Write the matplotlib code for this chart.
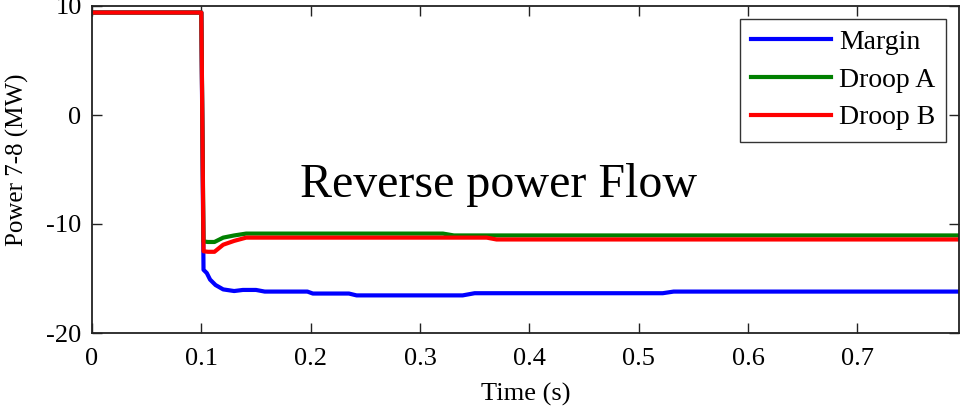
import matplotlib
matplotlib.use("Agg")
import matplotlib.pyplot as plt

# Data
t_margin = [0, 0.1, 0.102, 0.105, 0.108, 0.113, 0.12, 0.13, 0.138, 0.15, 0.158, 0.197, 0.202,
            0.235, 0.242, 0.339, 0.35, 0.522, 0.532, 0.793]
v_margin = [9.4, 9.4, -14.2, -14.5, -15.1, -15.6, -16.0, -16.15, -16.05, -16.05, -16.2, -16.2, -16.38,
            -16.38, -16.55, -16.55, -16.35, -16.35, -16.2, -16.2]

t_droopA = [0, 0.1, 0.102, 0.106, 0.112, 0.12, 0.13, 0.141, 0.321, 0.331, 0.793]
v_droopA = [9.4, 9.4, -11.6, -11.65, -11.65, -11.25, -11.05, -10.88, -10.88, -11.05, -11.05]

t_droopB = [0, 0.1, 0.102, 0.106, 0.112, 0.12, 0.13, 0.141, 0.361, 0.37, 0.793]
v_droopB = [9.4, 9.4, -12.5, -12.55, -12.55, -11.9, -11.55, -11.25, -11.25, -11.42, -11.42]

labels = ["Margin", "Droop A", "Droop B"]
colors = ["#0000ff", "#008000", "#ff0000"]
xticks = [0, 0.1, 0.2, 0.3, 0.4, 0.5, 0.6, 0.7]
xticklabels = ["0", "0.1", "0.2", "0.3", "0.4", "0.5", "0.6", "0.7"]
yticks = [-20, -10, 0, 10]
yticklabels = ["-20", "-10", "0", "10"]

plt.rcParams['font.family'] = ['Liberation Serif', 'DejaVu Serif']

fig = plt.figure(figsize=(9.73, 4.09), dpi=100)
ax_l, ax_r, ax_b, ax_t = 92, 959, 333, 6
ax = fig.add_axes([ax_l/973, 1 - ax_b/409, (ax_r-ax_l)/973, (ax_b-ax_t)/409])

for t, v, lab, c in zip([t_margin, t_droopA, t_droopB], [v_margin, v_droopA, v_droopB], labels, colors):
    ax.plot(t, v, color=c, lw=3, label=lab, solid_joinstyle='round')

ax.set_xlim(0, 0.793)
ax.set_ylim(-20, 10)
ax.set_xticks(xticks)
ax.set_xticklabels(xticklabels)
ax.set_yticks(yticks)
ax.set_yticklabels(yticklabels)
ax.tick_params(direction='in', length=7, width=1, top=True, right=True, labelsize=19,
               colors='#222222', labelcolor='black')
ax.tick_params(axis='x', pad=11)
ax.tick_params(axis='y', pad=7.5)
for s in ax.spines.values():
    s.set_linewidth(1.3)
    s.set_color('#222222')

ax.set_xlabel("Time (s)", fontsize=19, labelpad=9)
ax.set_ylabel("Power 7-8 (MW)", fontsize=18)
# y label: baseline side at x≈29 px, centred at y≈160 px
ax.yaxis.set_label_coords((29 - ax_l) / (ax_r - ax_l), (ax_b - 160) / (ax_b - ax_t))

ax.text(0.19, -7.5, "Reverse power Flow", fontsize=34.5, ha='left', va='baseline')

leg = ax.legend(loc='upper right', fontsize=20, frameon=True, fancybox=False,
                handlelength=2.88, handletextpad=0.29, labelspacing=0.44,
                borderpad=0.4, borderaxespad=0.45)
leg.get_frame().set_edgecolor('black')
leg.get_frame().set_linewidth(1.0)

fig.savefig("out.png", dpi=100)
